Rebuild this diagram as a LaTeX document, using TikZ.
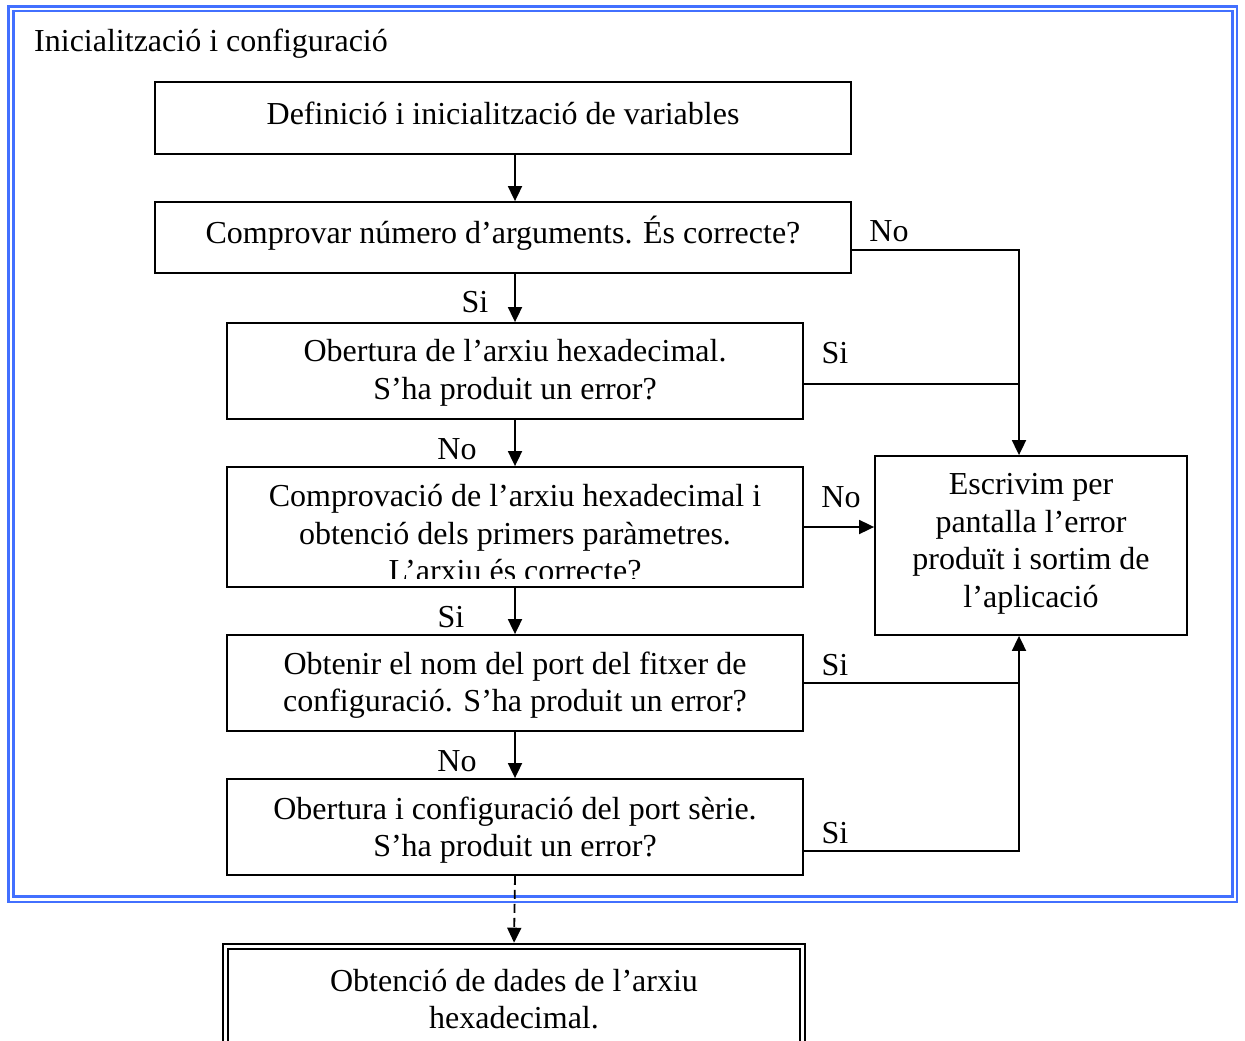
\documentclass[tikz,border=0pt]{standalone}
\usepackage{fontspec}
\setmainfont{Liberation Serif}
\usetikzlibrary{arrows.meta}
\definecolor{framebl}{RGB}{66,112,255}
\begin{document}
\begin{tikzpicture}[x=1pt,y=-1pt,
  box/.style={draw, line width=1.8pt, inner sep=0pt},
  txt/.style={font=\fontsize{32}{37.5}\selectfont, align=center, inner sep=0pt},
  lbl/.style={font=\fontsize{32}{37.5}\selectfont, inner sep=0pt},
  flow/.style={line width=1.8pt, -{Triangle[length=15pt,width=14pt]}},
  link/.style={line width=1.8pt},
  frameline/.style={draw=framebl, line width=2.6pt}]
\useasboundingbox (0,0) rectangle (1245,1041);

% outer double frame of the initialisation block
\draw[frameline] (8.5,6.5) rectangle (1237,902);
\draw[frameline] (13.5,11) rectangle (1232.5,896.5);
\node[lbl, anchor=west] (title) at (34,44) {Inicialització i configuració};

% process boxes
\node[box, minimum width=696pt, minimum height=72pt] (b1) at (503,118) {};
\node[box, minimum width=696pt, minimum height=71pt] (b2) at (503,237.5) {};
\node[box, minimum width=576pt, minimum height=96pt] (b3) at (515,371) {};
\node[box, minimum width=576pt, minimum height=120pt] (b4) at (515,527) {};
\node[box, minimum width=576pt, minimum height=96pt] (b5) at (515,683) {};
\node[box, minimum width=576pt, minimum height=96pt] (b6) at (515,827) {};
\node[box, minimum width=312pt, minimum height=179pt] (b7) at (1031,545.5) {};
\node[box, draw=black, double=white, line width=1.6pt, double distance=3.4pt,
      minimum width=577pt, minimum height=136pt] (b8) at (514,1014.5) {};

% box texts
\node[txt] (t1) at (503,113) {Definició i inicialització de variables};
\node[txt] (t2) at (503,233) {Comprovar número d’arguments. És correcte?};
\node[txt] (t3) at (515,373) {Obertura de l’arxiu hexadecimal.\\S’ha produit un error?};
\begin{scope}
  \clip (228,468) rectangle (802,578);
  \node[txt] (t4) at (515,533.5) {Comprovació de l’arxiu hexadecimal i\\obtenció dels primers paràmetres.\\L’arxiu és correcte?};
\end{scope}
\node[txt] (t5) at (515,685) {Obtenir el nom del port del fitxer de\\configuració. S’ha produit un error?};
\node[txt] (t6) at (515,830) {Obertura i configuració del port sèrie.\\S’ha produit un error?};
\node[txt] (t7) at (1031,544) {Escrivim per\\pantalla l’error\\produït i sortim de\\l’aplicació};
\node[txt] (t8) at (514,999) {Obtenció de dades de l’arxiu\\hexadecimal.};

% branch labels
\node[lbl] (l1) at (475,302) {Si};
\node[lbl] (l2) at (457,449) {No};
\node[lbl] (l3) at (451,617) {Si};
\node[lbl] (l4) at (457,761) {No};
\node[lbl] (l5) at (889,231) {No};
\node[lbl] (l6) at (835,353) {Si};
\node[lbl] (l7) at (841,497) {No};
\node[lbl] (l8) at (835,665) {Si};
\node[lbl] (l9) at (835,833) {Si};

% main flow
\draw[flow] (b1.south -| b3) -- (b2.north -| b3);
\draw[flow] (b2.south -| b3) -- (b3.north);
\draw[flow] (b3.south) -- (b4.north);
\draw[flow] (b4.south) -- (b5.north);
\draw[flow] (b5.south) -- (b6.north);
\draw[flow, dash pattern=on 9pt off 5pt, shorten >=3pt] (b6.south) -- (b8.north);

% error branches
\coordinate (rx) at (1019,0);
\draw[flow] ([yshift=-12.5pt]b2.east) -| (rx |- b7.north);
\draw[link] ([yshift=-13pt]b3.east) coordinate (s3) -- (s3 -| rx);
\draw[flow] (b4.east) -- (b4.east -| b7.west);
\draw[link] (b5.east) -- (b5.east -| rx);
\draw[flow] ([yshift=-24pt]b6.east) -| (rx |- b7.south);
\end{tikzpicture}
\end{document}
